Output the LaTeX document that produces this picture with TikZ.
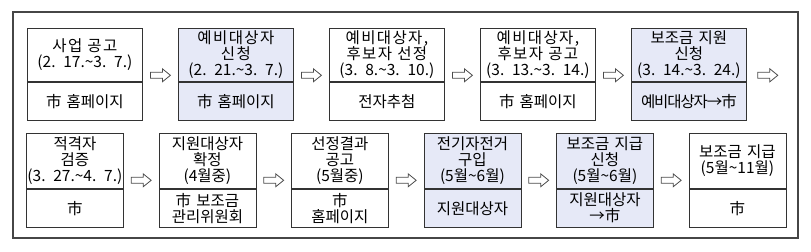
\documentclass[tikz,border=0pt]{standalone}
\usepackage{fontspec}
\setmainfont{Noto Sans CJK KR}
\usetikzlibrary{calc}
\definecolor{boxfill}{RGB}{230,233,247}
\definecolor{framecol}{RGB}{70,70,70}
\newcommand\lsp[1]{{\addfontfeature{LetterSpace=9}#1}}
\newcommand\tl{\textasciitilde}
\begin{document}
\begin{tikzpicture}[x=1bp,y=1bp,
  cell/.style={draw=black!80, line width=0.8bp, anchor=north west, inner sep=0pt,
    align=center, font=\fontsize{15.5bp}{16bp}\selectfont},
  upA/.style={cell, minimum width=115bp, text width=113bp, minimum height=53bp},
  loA/.style={cell, minimum width=115bp, text width=113bp, minimum height=38bp},
  upB/.style={cell, minimum width=97bp, text width=95bp, minimum height=55bp},
  loB/.style={cell, minimum width=97bp, text width=95bp, minimum height=38bp},
  hl/.style={fill=boxfill},
  flowarrow/.style={draw=black!70, line width=0.8bp, fill=white, line join=miter}
]
\useasboundingbox (0,0) rectangle (811,-251);
\draw[framecol, line width=1.3bp] (13,-12) rectangle (798,-238);

% Row 1
\node[upA] (a1) at (27,-28) {\lsp{사업 공고}\\(2. 17.\tl3. 7.)};
\node[loA] (b1) at (a1.south west) {市 홈페이지};
\node[upA, hl] (a2) at (178,-28) {\lsp{예비대상자}\\\lsp{신청}\\(2. 21.\tl3. 7.)};
\node[loA, hl] (b2) at (a2.south west) {市 홈페이지};
\node[upA] (a3) at (329,-28) {\lsp{예비대상자,}\\\lsp{후보자 선정}\\(3. 8.\tl3. 10.)};
\node[loA] (b3) at (a3.south west) {전자추첨};
\node[upA] (a4) at (480,-28) {\lsp{예비대상자,}\\\lsp{후보자 공고}\\(3. 13.\tl3. 14.)};
\node[loA] (b4) at (a4.south west) {市 홈페이지};
\node[upA, hl] (a5) at (631,-28) {보조금 지원\\신청\\(3. 14.\tl3. 24.)};
\node[loA, hl] (b5) at (a5.south west) {\addfontfeature{LetterSpace=-7}예비대상자→市};

\coordinate (p1) at ($(a1.south east)!0.5!(a2.south west)+(0,6.5)$);
\coordinate (p2) at ($(a2.south east)!0.5!(a3.south west)+(0,6.5)$);
\coordinate (p3) at ($(a3.south east)!0.5!(a4.south west)+(0,6.5)$);
\coordinate (p4) at ($(a4.south east)!0.5!(a5.south west)+(0,6.5)$);
\coordinate (p5) at ($(a5.south east)+(21,6.5)$);

% Row 2
\node[upB] (c1) at (26,-133) {적격자\\검증\\(3. 27.\tl4. 7.)};
\node[loB] (d1) at (c1.south west) {市};
\node[upB] (c2) at (158.5,-133) {지원대상자\\확정\\(4월중)};
\node[loB] (d2) at (c2.south west) {市 보조금\\관리위원회};
\node[upB] (c3) at (291,-133) {선정결과\\공고\\(5월중)};
\node[loB] (d3) at (c3.south west) {市\\홈페이지};
\node[upB, hl] (c4) at (423.5,-133) {전기자전거\\구입\\(5월\tl6월)};
\node[loB, hl] (d4) at (c4.south west) {지원대상자};
\node[upB, hl] (c5) at (556,-133) {보조금 지급\\신청\\(5월\tl6월)};
\node[loB, hl] (d5) at (c5.south west) {지원대상자\\→市};
\node[upB] (c6) at (688.5,-133) {보조금 지급\\(5월\tl11월)};
\node[loB] (d6) at (c6.south west) {市};

\coordinate (q1) at ($(c1.south east)!0.5!(c2.south west)+(0,8.5)$);
\coordinate (q2) at ($(c2.south east)!0.5!(c3.south west)+(0,8.5)$);
\coordinate (q3) at ($(c3.south east)!0.5!(c4.south west)+(0,8.5)$);
\coordinate (q4) at ($(c4.south east)!0.5!(c5.south west)+(0,8.5)$);
\coordinate (q5) at ($(c5.south east)!0.5!(c6.south west)+(0,8.5)$);

\foreach \c in {p1,p2,p3,p4,p5,q1,q2,q3,q4,q5}
  \draw[flowarrow] ($(\c)+(-10,3)$) -- ($(\c)+(2,3)$) -- ($(\c)+(2,6.5)$) -- ($(\c)+(10,0)$)
     -- ($(\c)+(2,-6.5)$) -- ($(\c)+(2,-3)$) -- ($(\c)+(-10,-3)$) -- cycle;
\end{tikzpicture}
\end{document}
